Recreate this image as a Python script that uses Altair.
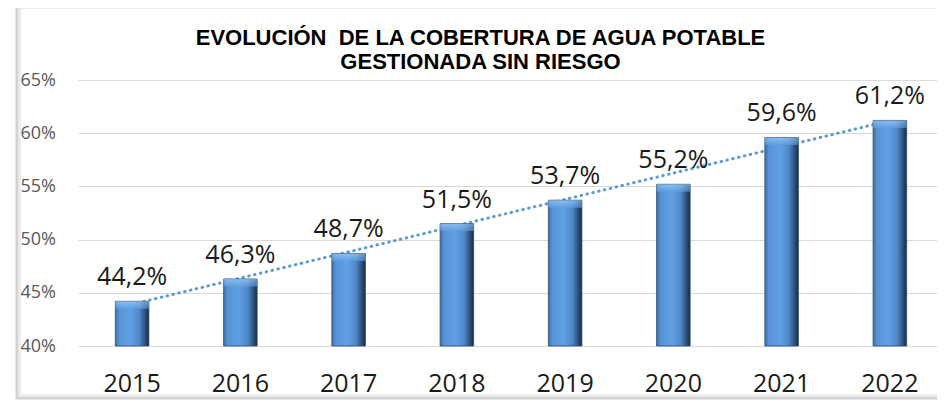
import altair as alt
import pandas as pd

years = ["2015", "2016", "2017", "2018", "2019", "2020", "2021", "2022"]
values = [44.2, 46.3, 48.7, 51.5, 53.7, 55.2, 59.6, 61.2]
idx = list(range(len(years)))
y_ticks = [40, 45, 50, 55, 60, 65]
title_lines = ["EVOLUCIÓN\u00a0 DE LA COBERTURA DE AGUA POTABLE", "GESTIONADA SIN RIESGO"]

df = pd.DataFrame({"year": years, "v": values, "idx": idx})

x_enc = alt.X("year:N", sort=years,
              scale=alt.Scale(range=[0, 866], paddingInner=0.69, paddingOuter=0.345),
              axis=alt.Axis(title=None, labelAngle=0, labelFont="Open Sans", labelFontSize=25,
                            labelColor="#1a1a1a", labelPadding=37, labelBaseline="middle",
                            ticks=False, domain=False, grid=False))
y_scale = alt.Scale(domain=[40, 65], nice=False, zero=False)
y_axis = alt.Axis(title=None, values=y_ticks, labelExpr="datum.value + '%'",
                  labelFont="Open Sans", labelFontSize=18, labelColor="#595959",
                  labelAlign="left", labelPadding=58, labelBaseline="middle",
                  ticks=False, domain=False, grid=True, gridColor="#d9d9d9", gridWidth=1)

base = alt.Chart(df)

frame = alt.Chart(alt.Data(values=[{"k": 1}])).mark_rect(
    fill="transparent", stroke="#d2d2d2", strokeWidth=3
).encode(x=alt.value(-61), x2=alt.value(880), y=alt.value(-75), y2=alt.value(318))

frame2 = alt.Chart(alt.Data(values=[{"k": 1}])).mark_rect(
    fill="transparent", stroke="#ececec", strokeWidth=2
).encode(x=alt.value(-58), x2=alt.value(880), y=alt.value(-72), y2=alt.value(315))

grid_layer = base.mark_bar(opacity=0).encode(x=x_enc, y=alt.Y("v:Q", scale=y_scale, axis=y_axis))

trend = base.transform_regression("idx", "v").transform_calculate(
    year="toString(2015 + round(datum.idx))"
).mark_line(color="#5b9bd5", strokeWidth=3, strokeDash=[0.5, 5.5], strokeCap="round").encode(
    x=alt.X("year:N", sort=years),
    y=alt.Y("v:Q", scale=y_scale),
)

bar_fill = alt.Gradient(
    gradient="linear", x1=0, x2=1, y1=0, y2=0,
    stops=[
        alt.GradientStop(offset=0, color="#3c70ad"),
        alt.GradientStop(offset=0.12, color="#5893d3"),
        alt.GradientStop(offset=0.45, color="#5fa1e6"),
        alt.GradientStop(offset=0.72, color="#4f87c6"),
        alt.GradientStop(offset=0.88, color="#2d5380"),
        alt.GradientStop(offset=1, color="#172a42"),
    ],
)

bars = base.mark_bar(fill=bar_fill, stroke="#2b4c73", strokeWidth=0.8).encode(
    x=alt.X("year:N", sort=years),
    y=alt.Y("v:Q", scale=y_scale),
    y2=alt.datum(40),
)

bevel_fill = alt.Gradient(
    gradient="linear", x1=0, x2=0, y1=0, y2=1,
    stops=[
        alt.GradientStop(offset=0, color="#a9d4fb"),
        alt.GradientStop(offset=1, color="#5fa1e6"),
    ],
)
bevel = base.transform_calculate(vt="datum.v - 0.7").mark_bar(
    fill=bevel_fill, opacity=0.6
).encode(
    x=alt.X("year:N", sort=years),
    y=alt.Y("v:Q", scale=y_scale),
    y2="vt:Q",
)

labels = base.transform_calculate(
    lbl="replace(format(datum.v, '.1f'), '.', ',') + '%'"
).mark_text(font="Open Sans", fontSize=25, color="#1a1a1a", baseline="alphabetic",
            align="center", dy=-16).encode(
    x=alt.X("year:N", sort=years),
    y=alt.Y("v:Q", scale=y_scale),
    text="lbl:N",
)

chart = alt.layer(frame2, frame, grid_layer, trend, bars, bevel, labels).properties(
    width=859, height=266,
    autosize=alt.AutoSizeParams(type="none"),
    padding={"left": 70, "top": 72, "right": 0, "bottom": 54},
    title=alt.TitleParams(text=title_lines, font="Liberation Sans", fontSize=22,
                          fontWeight="bold", color="#000000", anchor="middle",
                          lineHeight=24, dx=-27, dy=78, offset=8),
).configure_view(stroke=None)

chart.save("out.html", embed_options={"renderer": "svg", "actions": False})
